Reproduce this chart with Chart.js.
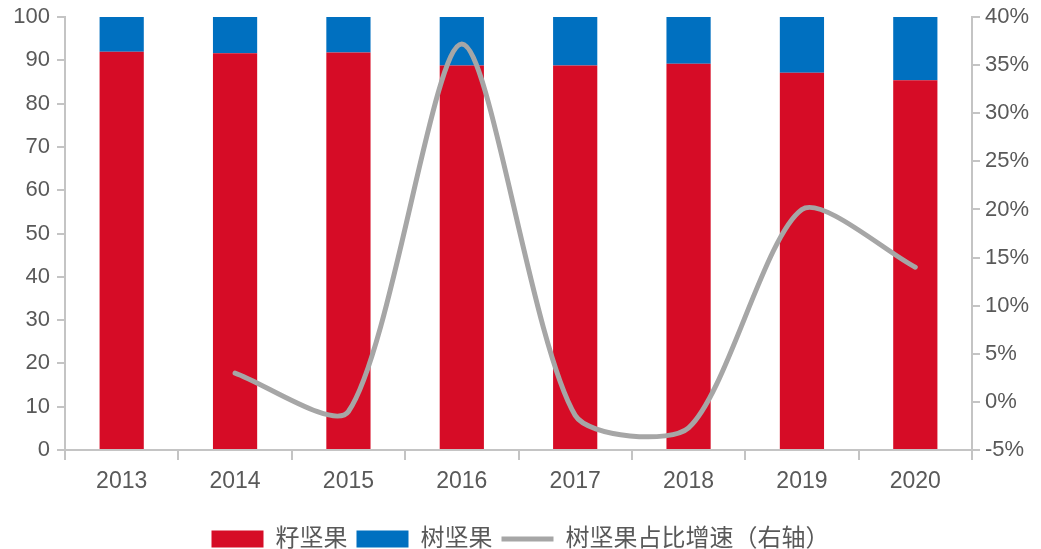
<!DOCTYPE html>
<html lang="zh">
<head>
  <meta charset="UTF-8" />
  <title>坚果品类结构</title>
  <script src="https://cdn.jsdelivr.net/npm/chart.js"></script>
  <style>
    html, body { margin: 0; padding: 0; background: #fff; overflow: hidden; }
    #nutChart { display: block; }
  </style>
</head>
<body>
  <canvas id="nutChart" width="1041" height="549"></canvas>
  <script>
    // data
    const years = ['2013', '2014', '2015', '2016', '2017', '2018', '2019', '2020'];
    const seedNuts = [92.0, 91.6, 91.8, 88.8, 88.8, 89.2, 87.1, 85.4];
    const treeNuts = [8.0, 8.4, 8.2, 11.2, 11.2, 10.8, 12.9, 14.6];
    const treeShareGrowth = [null, 3.0, -1.0, 37.2, -1.4, -2.7, 20.0, 14.0];

    const FONT = "'Liberation Sans', 'Noto Sans CJK SC', sans-serif";
    const axisGrey = '#c4c4c4';
    const labelGrey = '#595959';

    // push the legend row a little lower than the default layout puts it
    const legendShift = {
      id: 'legendShift',
      afterLayout(chart) {
        const lg = chart.legend;
        if (!lg) return;
        const dy = 26;
        lg.top += dy;
        lg.bottom += dy;
        (lg.legendHitBoxes || []).forEach(b => { b.top += dy; });
      }
    };

    // vertical axes: fixed width, no extra room reserved for the end labels
    const fitY = w => s => {
      s.width = w;
      s.paddingTop = 0;
      s.paddingBottom = 0;
    };

    const ctx = document.getElementById('nutChart').getContext('2d');
    new Chart(ctx, {
      data: {
        labels: years,
        datasets: [
          {
            type: 'bar', label: '籽坚果', data: seedNuts,
            backgroundColor: '#d60c26', borderWidth: 0,
            barPercentage: 0.39, categoryPercentage: 1, order: 1,
            pointStyle: 'rect'
          },
          {
            type: 'bar', label: '树坚果', data: treeNuts,
            backgroundColor: '#0070c0', borderWidth: 0,
            barPercentage: 0.39, categoryPercentage: 1, order: 1,
            pointStyle: 'rect'
          },
          {
            type: 'line', label: '树坚果占比增速（右轴）', data: treeShareGrowth,
            yAxisID: 'y1', borderColor: '#a6a6a6', backgroundColor: '#a6a6a6',
            borderWidth: 5, tension: 0.25, pointRadius: 0, order: 0,
            pointStyle: 'line', borderCapStyle: 'round', spanGaps: false
          }
        ]
      },
      options: {
        responsive: false,
        animation: false,
        maintainAspectRatio: false,
        layout: { padding: { top: 17, left: 0, right: 0, bottom: 14 } },
        plugins: {
          tooltip: { enabled: false },
          legend: {
            position: 'bottom',
            labels: {
              usePointStyle: true,
              pointStyleWidth: 52,
              boxHeight: 17,
              padding: 9,
              color: labelGrey,
              font: { family: FONT, size: 24 },
              sort: (a, b) => a.datasetIndex - b.datasetIndex
            }
          }
        },
        scales: {
          x: {
            stacked: true,
            grid: { drawOnChartArea: false, color: axisGrey, tickLength: 10, lineWidth: 2 },
            border: { color: axisGrey, width: 2 },
            ticks: { color: labelGrey, font: { family: FONT, size: 23 }, padding: 8, maxRotation: 0 },
            afterFit: s => { s.height = 42; }
          },
          y: {
            stacked: true, min: 0, max: 100,
            ticks: { stepSize: 10, color: labelGrey, font: { family: FONT, size: 22 }, padding: 7 },
            grid: { drawOnChartArea: false, color: axisGrey, tickLength: 8, lineWidth: 2 },
            border: { color: axisGrey, width: 2 },
            afterFit: fitY(65)
          },
          y1: {
            position: 'right', min: -5, max: 40,
            ticks: {
              stepSize: 5, color: labelGrey, font: { family: FONT, size: 22 }, padding: 5,
              callback: v => v + '%'
            },
            grid: { drawOnChartArea: false, color: axisGrey, tickLength: 8, lineWidth: 2 },
            border: { color: axisGrey, width: 2 },
            afterFit: fitY(69)
          }
        }
      },
      plugins: [legendShift]
    });
  </script>
</body>
</html>
